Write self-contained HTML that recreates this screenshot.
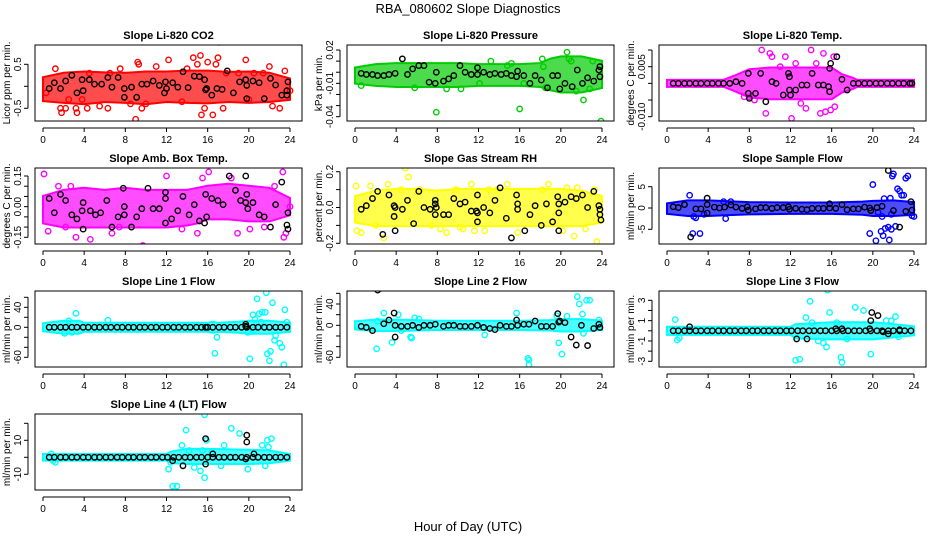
<!DOCTYPE html>
<html><head><meta charset="utf-8">
<style>
html,body{margin:0;padding:0;background:#fff;}
svg{display:block;font-family:"Liberation Sans",sans-serif;}
</style></head>
<body>
<svg id="chart" width="936" height="540" viewBox="0 0 936 540" xmlns="http://www.w3.org/2000/svg">
<rect width="936" height="540" fill="#fff"/>
<text x="468" y="13" text-anchor="middle" font-size="13">RBA_080602  Slope Diagnostics</text>
<text x="468" y="531" text-anchor="middle" font-size="13">Hour of Day (UTC)</text>
</svg>
<script>
// ---------- data ----------
const xTicks = [0,4,8,12,16,20,24];

// Panel A: CO2
const coBandHours = [0,2,4,6,8,10,12,14,16,18,20,22,24];
const coBandLo = [-0.28,-0.32,-0.35,-0.3,-0.32,-0.35,-0.3,-0.32,-0.33,-0.3,-0.32,-0.3,-0.25];
const coBandHi = [0.15,0.25,0.28,0.26,0.25,0.28,0.28,0.3,0.3,0.27,0.28,0.25,0.12];
const coHours = [0.3,1.2,1.7,1.8,2.2,2.5,3.3,3.2,3.8,4.3,4.5,5.5,6.3,6.5,7.5,8.5,9.0,9.2,9.3,9.6,10,11,12.2,13.5,14,14.6,15,15.3,15.4,15.7,16,16.5,16.8,17.1,17.0,17.5,17.8,19,19.7,20,20.5,21.4,22,22.3,23,23.5,24];
const coVals = [-0.15,0.4,-0.5,-0.6,-0.5,-0.3,-0.6,-0.5,-0.3,-0.5,0.3,-0.45,-0.5,0.3,0.4,-0.4,-0.75,0.55,0.5,-0.5,-0.4,0.45,0.6,-0.35,0.4,0.65,0.5,0.7,-0.65,-0.5,0.55,-0.65,0.5,1.0,0.65,-0.5,0.3,0.3,0.6,-0.3,0.3,0.3,0.45,-0.45,-0.5,0.35,-0.1];
const coBlackHours = [0.6,1.1,1.7,2.2,2.8,3.3,3.9,3.8,4.5,5.0,5.7,6.3,6.7,7.3,7.9,7.9,8.6,9.1,9.6,10.1,10.7,11.3,11.8,11.9,12.0,12.6,13.1,13.6,14.1,14.7,15.2,15.7,15.8,15.9,16.4,16.9,17.4,17.9,18.5,19.1,19.7,19.8,19.8,20.4,21.0,21.5,22.1,22.6,23.2,23.7,23.8,23.7];
const coBlackVals = [-0.05,0.08,-0.05,0.12,0.25,-0.15,-0.1,0.15,0.15,0.05,0.05,0.2,-0.02,0.2,-0.25,-0.05,-0.02,-0.25,0.05,0.05,0.12,0.02,-0.15,0.1,-0.05,0.08,-0.02,0.33,-0.03,0.23,0.22,0.15,-0.08,-0.05,-0.2,-0.05,-0.07,0.35,-0.15,0.1,0.15,-0.28,0.02,0.12,0.08,-0.28,0.18,0.03,-0.2,-0.2,0.1,-0.1];

// Panel B: Pressure
const prBandHours = [0,2,4,6,8,10,12,14,16,18,19,20,22,24];
const prBandLo = [-0.008,-0.01,-0.011,-0.011,-0.011,-0.011,-0.01,-0.01,-0.01,-0.011,-0.014,-0.016,-0.016,-0.012];
const prBandHi = [0.002,0.005,0.006,0.006,0.006,0.006,0.005,0.005,0.005,0.006,0.01,0.012,0.012,0.008];
const prHours = [0.6,4.6,5.8,7.9,8.9,10.3,12.1,13.2,14.8,15.2,16.0,16.4,18.2,18.3,18.5,20.6,20.8,21.5,22.2,22.8,23.1,23.9,21.0];
const prVals = [-0.012,0.012,-0.014,-0.036,-0.015,-0.015,-0.010,0.010,0.006,0.008,-0.033,-0.010,0.012,0.005,-0.014,0.018,0.012,-0.017,-0.025,-0.015,0.010,-0.044,0.010];
const prBlackHours = [0.6,1.1,1.7,2.2,2.8,3.3,3.9,4.6,5.1,5.6,6.2,6.7,7.2,7.8,7.9,8.6,9.1,9.6,10.2,10.7,11.3,11.9,11.9,12.5,13.1,13.6,14.2,14.7,15.2,15.7,15.8,16.4,17.0,17.5,18.1,18.7,19.2,19.7,19.9,20.4,21.1,21.6,22.1,22.6,23.2,23.7,23.8,23.8];
const prBlackVals = [-0.001,-0.002,-0.002,-0.003,-0.003,-0.002,-0.001,0.012,-0.002,0.003,0.006,0.006,-0.009,-0.010,0.000,-0.008,-0.006,-0.003,0.006,0.000,-0.002,0.004,-0.002,0.000,-0.002,-0.001,-0.002,-0.001,-0.003,-0.004,0.001,-0.003,-0.010,-0.003,-0.007,-0.014,-0.003,-0.003,-0.015,-0.010,-0.013,0.002,-0.010,-0.005,-0.008,0.002,0.005,-0.004];

// Panel C: Li-820 Temp
const ltBandHours = [0,5.5,6.5,8,10,12,14,16,17,18,18.5,24];
const ltBandLo = [-0.0003,-0.0003,-0.0015,-0.0035,-0.004,-0.004,-0.004,-0.004,-0.002,-0.001,-0.0003,-0.0003];
const ltBandHi = [0.0003,0.0003,0.0015,0.0035,0.004,0.004,0.004,0.004,0.002,0.001,0.0003,0.0003];
const ltHours = [8.5,9.2,9.6,10.0,10.2,11.5,12.1,12.5,13.5,14.0,14.5,14.9,15.4,15.2,15.9,16.2,16.3,8.0,7.5,11.0,13.0];
const ltVals = [-0.005,0.010,-0.009,0.009,0.008,0.008,-0.0105,0.006,-0.0075,0.010,0.006,-0.009,-0.0085,0.009,-0.008,0.008,-0.007,-0.004,-0.004,0.005,-0.006];
const ltBlackHours = [0.6,1.1,1.7,2.2,2.8,3.3,3.9,4.4,5.0,5.5,6.1,6.7,7.3,7.9,7.9,8.0,8.6,9.1,9.6,10.2,10.6,11.3,11.8,11.9,11.9,12.0,12.5,13.1,13.6,14.1,14.7,15.2,15.7,15.8,15.8,15.9,16.5,17.0,17.5,18.1,18.6,19.2,19.7,20.3,20.8,21.4,21.9,22.5,23.0,23.6,23.8];
const ltBlackVals = [0,0,0,0,0,0,0,0,0,0,0,0.0005,0,0.003,-0.003,-0.0045,-0.003,0.003,-0.0055,0.0005,0,-0.0035,0.003,0.002,-0.002,-0.0035,-0.002,-0.0005,-0.0005,0.003,-0.0005,-0.0005,-0.001,-0.0025,0.0045,0.006,0.008,0.0012,-0.002,0,0,0,0,0,0,0,0,0,0,0,0];

// Panel D: Amb. Box Temp
const abBandHours = [0,2,4,6,8,10,12,14,15,16,18,20,22,24];
const abBandLo = [-0.07,-0.09,-0.09,-0.09,-0.09,-0.09,-0.09,-0.08,-0.07,-0.05,-0.05,-0.06,-0.06,-0.03];
const abBandHi = [0.04,0.07,0.08,0.07,0.08,0.07,0.07,0.07,0.08,0.09,0.1,0.09,0.08,0.03];
const abHours = [0.1,0.5,1.5,2.2,2.7,3.2,4.6,6.7,7.4,9.7,12,13.5,15.0,16.1,15.5,18.3,18.9,20.1,21.5,22.5,23.3,23.4,23.6,24];
const abVals = [0.16,-0.12,0.10,-0.1,0.10,-0.15,-0.16,-0.13,-0.1,-0.19,0.15,-0.11,-0.13,0.17,0.14,0.14,-0.13,-0.11,-0.1,0.10,0.17,-0.15,-0.13,0.0];
const abBlackHours = [0.6,1.1,1.7,2.2,2.8,3.3,3.9,3.9,3.8,4.6,5.1,5.6,6.2,6.7,7.3,7.8,7.9,7.9,8.6,9.1,9.6,10.2,10.7,11.3,11.9,11.9,11.9,12.5,13.1,13.6,14.2,14.7,15.2,15.7,15.8,15.9,16.4,17.0,17.5,18.1,18.7,19.2,19.7,19.7,19.8,19.9,20.4,21.0,21.5,22.1,22.6,23.2,23.7,23.8,23.8];
const abBlackVals = [0.04,-0.03,0.06,0.03,-0.04,-0.06,0.02,-0.11,-0.02,-0.02,-0.04,-0.03,0.03,-0.10,-0.05,0.09,0.00,-0.04,-0.10,-0.05,-0.01,0.09,-0.01,-0.01,0.04,0.07,-0.08,-0.06,-0.02,0.05,-0.04,0.01,-0.07,-0.08,0.06,-0.05,0.04,0.03,0.01,0.15,0.08,0.03,0.02,0.15,0.06,-0.01,0.02,-0.04,-0.05,-0.10,0.01,0.12,-0.09,-0.03,-0.11];

// Panel E: Gas Stream RH
const rhBandHours = [0,2,4,6,8,10,12,14,16,18,20,22,24];
const rhBandLo = [-0.07,-0.09,-0.09,-0.09,-0.09,-0.09,-0.09,-0.09,-0.09,-0.09,-0.09,-0.09,-0.07];
const rhBandHi = [0.05,0.08,0.09,0.09,0.08,0.09,0.09,0.09,0.09,0.09,0.09,0.08,0.05];
const rhHours = [0.1,0.2,0.6,1.5,2.0,2.8,3.2,4.5,4.9,5.2,6.3,7.4,8.3,8.9,9.8,10.2,10.5,11.3,11.6,12.6,13.0,13.8,14.8,15.8,18.2,18.8,20.2,20.6,21.3,21.6,22.4,23.3,23.5];
const rhVals = [0.12,-0.13,-0.14,0.12,-0.10,-0.17,0.13,0.10,0.22,0.17,0.10,-0.10,-0.12,-0.14,0.10,-0.11,-0.12,0.13,-0.13,-0.13,0.10,0.10,0.13,-0.14,0.10,0.13,-0.13,0.11,-0.16,0.11,-0.12,0.10,-0.19];
const rhBlackHours = [0.6,1.1,1.7,2.2,2.7,3.3,3.8,3.9,3.8,3.9,4.6,5.1,5.7,6.2,6.7,7.3,7.8,7.8,7.9,7.8,8.6,9.1,9.6,10.2,10.7,11.3,11.8,11.9,11.9,11.9,12.5,13.1,13.6,14.1,14.7,15.2,15.7,15.8,15.8,16.5,17.0,17.5,18.1,18.6,19.2,19.7,19.8,19.8,19.8,20.4,21.0,21.5,22.1,22.6,23.2,23.7,23.8,23.8,23.9];
const rhBlackVals = [-0.01,0.01,0.05,0.09,-0.15,0.07,0.01,0.0,-0.05,-0.13,-0.01,0.04,-0.09,0.09,0.0,-0.01,0.04,0.02,0.0,-0.04,-0.04,-0.04,0.05,0.02,0.03,-0.02,-0.02,-0.03,0.07,-0.08,0.0,-0.03,0.04,0.11,-0.06,-0.17,0.07,-0.01,0.02,-0.13,-0.04,0.01,-0.10,0.02,-0.08,0.06,0.02,-0.13,-0.03,0.03,0.06,0.05,0.07,0.0,0.09,0.01,-0.01,-0.04,-0.07];

// Panel F: Sample Flow
const sfBandHours = [0,2,4,6,8,12,16,19,20,22,24];
const sfBandLo = [-0.8,-1.3,-1.3,-1.1,-0.9,-0.8,-0.8,-1.0,-1.3,-1.3,-1.0];
const sfBandHi = [0.5,1.2,1.2,1.0,0.8,0.7,0.7,0.9,1.1,1.2,0.8];
const sfHours = [2.2,2.5,2.6,2.8,3.2,3.6,5.5,5.7,6.2,19.7,20,20.3,20.8,21.0,20.9,21.1,21.2,21.5,21.6,21.7,21.8,21.9,22.0,22.2,22.4,22.6,22.8,23.0,23.2,23.4,23.8,24,20.5,21.8];
const sfVals = [3,-6,-2,-2.3,-6,-1.5,1.5,-2.5,1.5,-6,5.5,-7.7,-5.5,-6.5,-2,2.2,-4.8,-4.5,-7.5,2.3,-5,7.5,8,-4.3,4.5,4,3,3,7,7.5,-1.8,-2,-1,-1.5];
const sfBlackHours = [0.6,1.1,1.7,2.3,2.8,3.3,3.9,3.9,3.9,4.6,5.1,5.6,6.2,6.7,7.3,7.8,7.9,8.6,9.1,9.6,10.2,10.7,11.3,11.8,11.9,12.5,13.1,13.6,14.1,14.7,15.2,15.8,15.8,16.4,17.0,17.5,18.1,18.6,19.2,19.7,19.8,20.4,20.9,21.5,22.0,22.6,23.2,23.7,23.8];
const sfBlackVals = [0.3,0.1,0.8,-6.8,-0.2,-0.2,2.3,0.8,-1.2,0.2,0,0.2,0.7,0.2,-0.1,0.3,-0.5,-0.2,0.1,0.1,-0.1,0.1,0.1,0.3,-0.3,-0.1,-0.3,-0.4,-0.1,-0.1,-0.1,1.0,0.0,-0.1,0.8,-0.4,-0.2,-0.2,0.2,0.0,-0.6,0.1,0.4,8.8,-0.6,-4.5,-0.8,1.5,-0.5];

// Shared zero-line black hours for flow panels
const flatHours = [0.6,1.1,1.7,2.2,2.8,3.3,3.9,4.4,5.0,5.5,6.1,6.6,7.2,7.7,8.3,8.8,9.4,9.9,10.5,11.0,11.6,12.1,12.7,13.2,13.8,14.3,14.9,15.4,16.0,16.5,17.1,17.6,18.2,18.7,19.3,19.8,20.4,20.9,21.5,22.0,22.6,23.1,23.7];

// Panel G: Line 1 Flow
const l1BandHours = [0,2,3.5,4,16,16.5,17,19,20,22,24];
const l1BandLo = [-3,-8,-8,-4,-4,-6,-4,-6,-8,-8,-4];
const l1BandHi = [3,8,8,4,4,6,4,6,8,8,4];
const l1Hours = [2.1,2.8,2.5,3.2,6.3,16.7,16.9,19.9,20.1,20.4,20.6,20.8,21.0,21.3,21.6,21.7,21.8,22.0,22.1,22.3,22.5,22.6,23.0,23.2,23.4,23.5,23.7,21.2,20.5];
const l1Vals = [-12,-10,13,28,14,-52,-20,-10,-63,25,16,57,27,30,30,69,-53,-67,-48,49,-26,-17,-32,-40,-75,35,10,10,-5];
const l1BlackHours = [15.8,19.7,19.7];
const l1BlackVals = [0,6,2];

// Panel H: Line 2 Flow
const l2BandHours = [0,2,4,6,8,12,16,19,20,22,24];
const l2BandLo = [-3,-6,-6,-5,-4,-4,-4,-5,-7,-7,-4];
const l2BandHi = [3,6,6,5,4,4,4,5,7,7,4];
const l2Hours = [2.1,2.2,2.8,3.6,4.2,4.5,5.4,5.5,5.8,6.2,12.6,15.7,16.9,16.9,16.8,19.6,19.8,20.1,20.6,21.6,21.8,22.1,22.2,22.5,22.8,23.7];
const l2Vals = [-44,8,23,-32,20,-10,-22,-24,14,12,-18,23,-65,-74,-62,18,-33,-54,17,54,40,21,-15,47,47,10];
const l2BlackHours = [0.6,1.1,1.7,2.2,2.8,3.3,3.8,3.9,3.9,4.5,5.1,5.6,6.2,6.7,7.3,7.8,8.6,9.1,9.6,10.2,10.7,11.3,11.9,12.5,13.1,13.6,14.1,14.7,15.2,15.7,15.8,16.4,16.9,17.5,18.1,18.6,19.2,19.7,19.8,19.9,20.4,21.0,21.5,22.0,22.6,23.2,23.7,23.8];
const l2BlackVals = [-2,-4,-10,66,3,10,23,0,-22,-2,-2,0,-4,0,0,2,-2,0,0,-2,-2,-2,0,-4,-6,-8,0,-2,-2,10,0,2,2,8,-2,-2,-2,22,6,8,5,-22,-37,0,-38,-6,2,-4];

// Panel I: Line 3 Flow
const l3BandHours = [0,12,12.5,16,20,24];
const l3BandLo = [-0.15,-0.15,-0.5,-0.6,-0.6,-0.2];
const l3BandHi = [0.15,0.15,0.4,0.6,0.6,0.2];
const l3Hours = [0.8,1.0,1.2,12.5,12.9,13.5,13.9,14.1,14.7,15.2,15.5,15.6,15.8,16.5,16.9,17.0,17.5,18.3,19.1,19.8,21.3,21.8,22.2,22.5];
const l3Vals = [1.1,-0.9,-0.7,-2.9,-2.8,1.3,2.9,0.8,-1.0,-1.2,-1.6,4.0,1.8,0.8,-2.6,-3.1,-0.8,2.3,2.0,-2.3,1.0,1.0,1.4,-0.6];
const l3BlackHours = [2.2,12.6,13.6,16.4,17.0,19.7,19.8,19.9,20.5,21.0,21.5,22.6];
const l3BlackVals = [0.4,-0.8,-0.8,0.2,0.2,0.2,1.0,1.8,1.5,-0.1,-0.3,0.1];

// Panel J: Line 4 (LT) Flow
const l4BandHours = [0,12,12.5,14,16,20,22,24];
const l4BandLo = [-0.5,-0.5,-2,-2.5,-2.5,-2.5,-2,-0.5];
const l4BandHi = [0.5,0.5,2,3.5,3.5,3,2.5,0.5];
const l4Hours = [0.8,1.2,1.0,12.2,12.4,12.6,13.0,13.5,13.9,14.2,14.7,15.3,15.5,15.7,15.7,15.9,16.4,17.3,17.6,18.3,19.1,19.9,21.3,21.6,21.8,22.2,21.9];
const l4Vals = [2,-3,-2,-7,-3,-17,-17,7,16,4,-6,-8,4,-12,25,10,3,-5,7,17,14,-7,7,-5,10,11,6];
const l4BlackHours = [12.6,13.6,15.8,15.8,16.5,19.8,19.8,20.5,19.7];
const l4BlackVals = [-2,-5,11,-4,2,9,13,2,-1];

// y-axis definitions (ticks and labels)
const coTicks=[-0.5,0,0.5], coLabels=["-0.5","","0.5"];
const prTicks=[-0.04,-0.03,-0.02,-0.01,0,0.01,0.02], prLabels=["-0.04","","","-0.01","","","0.02"];
const ltTicks=[-0.010,-0.005,0,0.005,0.010], ltLabels=["-0.010","","","0.005",""];
const abTicks=[-0.15,-0.10,-0.05,0,0.05,0.10,0.15], abLabels=["-0.15","","","0.00","","","0.15"];
const rhTicks=[-0.2,-0.1,0,0.1,0.2], rhLabels=["-0.2","","0.0","","0.2"];
const sfTicks=[-5,0,5], sfLabels=["-5","0","5"];
const l1Ticks=[-60,-40,-20,0,20,40,60], l1Labels=["-60","","","0","","40",""];
const l3Ticks=[-3,-2,-1,0,1,2,3], l3Labels=["-3","","-1","","1","","3"];
const l4Ticks=[-10,0,10,20], l4Labels=["-10","","10",""];

// ---------- drawing ----------
const NS="http://www.w3.org/2000/svg";
const svg=document.getElementById('chart');
function mk(tag,attrs,parent){const e=document.createElementNS(NS,tag);for(const k in attrs)e.setAttribute(k,attrs[k]);(parent||svg).appendChild(e);return e;}

const panels=[
 {key:'co2',title:'Slope Li-820 CO2',ylab:'Licor ppm per min.',col:0,row:0,color:'#ff0000',v1:0.5,p1:64.3,v2:-0.5,p2:108.3,ticks:coTicks,labels:coLabels,bh:coBandHours,bl:coBandLo,bu:coBandHi,h:coHours,v:coVals,kh:coBlackHours,kv:coBlackVals},
 {key:'pressure',title:'Slope Li-820 Pressure',ylab:'kPa per min.',col:1,row:0,color:'#00cc00',v1:0.02,p1:50,v2:-0.04,p2:116.7,ticks:prTicks,labels:prLabels,bh:prBandHours,bl:prBandLo,bu:prBandHi,h:prHours,v:prVals,kh:prBlackHours,kv:prBlackVals},
 {key:'li-temp',title:'Slope Li-820 Temp.',ylab:'degrees C per min.',col:2,row:0,color:'#ff00ff',v1:0.005,p1:66.7,v2:-0.010,p2:116.7,ticks:ltTicks,labels:ltLabels,bh:ltBandHours,bl:ltBandLo,bu:ltBandHi,h:ltHours,v:ltVals,kh:ltBlackHours,kv:ltBlackVals},
 {key:'amb-temp',title:'Slope Amb. Box Temp.',ylab:'degrees C per min.',col:0,row:1,color:'#ff00ff',v1:0.15,p1:176,v2:-0.15,p2:237.3,ticks:abTicks,labels:abLabels,bh:abBandHours,bl:abBandLo,bu:abBandHi,h:abHours,v:abVals,kh:abBlackHours,kv:abBlackVals},
 {key:'rh',title:'Slope Gas Stream RH',ylab:'percent per min.',col:1,row:1,color:'#ffff00',v1:0.2,p1:171.7,v2:-0.2,p2:243.3,ticks:rhTicks,labels:rhLabels,bh:rhBandHours,bl:rhBandLo,bu:rhBandHi,h:rhHours,v:rhVals,kh:rhBlackHours,kv:rhBlackVals},
 {key:'sample-flow',title:'Slope Sample Flow',ylab:'ml/min per min.',col:2,row:1,color:'#0000ff',v1:5,p1:186.7,v2:-5,p2:229.3,ticks:sfTicks,labels:sfLabels,bh:sfBandHours,bl:sfBandLo,bu:sfBandHi,h:sfHours,v:sfVals,kh:sfBlackHours,kv:sfBlackVals},
 {key:'line1',title:'Slope Line 1 Flow',ylab:'ml/min per min.',col:0,row:2,color:'#00ffff',v1:40,p1:307.3,v2:-60,p2:357.3,ticks:l1Ticks,labels:l1Labels,bh:l1BandHours,bl:l1BandLo,bu:l1BandHi,h:l1Hours,v:l1Vals,kh:flatHours.concat(l1BlackHours),kv:flatHours.map(()=>0).concat(l1BlackVals)},
 {key:'line2',title:'Slope Line 2 Flow',ylab:'ml/min per min.',col:1,row:2,color:'#00ffff',v1:40,p1:304,v2:-60,p2:357.3,ticks:l1Ticks,labels:l1Labels,bh:l2BandHours,bl:l2BandLo,bu:l2BandHi,h:l2Hours,v:l2Vals,kh:l2BlackHours,kv:l2BlackVals},
 {key:'line3',title:'Slope Line 3 Flow',ylab:'ml/min per min.',col:2,row:2,color:'#00ffff',v1:3,p1:300.3,v2:-3,p2:361.3,ticks:l3Ticks,labels:l3Labels,bh:l3BandHours,bl:l3BandLo,bu:l3BandHi,h:l3Hours,v:l3Vals,kh:flatHours.concat(l3BlackHours),kv:flatHours.map(()=>0).concat(l3BlackVals)},
 {key:'line4',title:'Slope Line 4 (LT) Flow',ylab:'ml/min per min.',col:0,row:3,color:'#00ffff',v1:10,p1:440.3,v2:-10,p2:474.3,ticks:l4Ticks,labels:l4Labels,bh:l4BandHours,bl:l4BandLo,bu:l4BandHi,h:l4Hours,v:l4Vals,kh:flatHours.concat(l4BlackHours),kv:flatHours.map(()=>0).concat(l4BlackVals)}
];
const rowTops=[45,168,291,414];

panels.forEach(p=>{
  const cx=p.col*312, top=rowTops[p.row], bot=top+76, left=cx+35, right=cx+302;
  const xs=h=>cx+43+h*247/24;
  const ys=v=>p.p1+(v-p.v1)*(p.p2-p.p1)/(p.v2-p.v1);
  const g=mk('g',{});
  
  
  const clipId='clip-'+p.key;
  const cp=mk('clipPath',{id:clipId},g);
  mk('rect',{x:left,y:top,width:right-left,height:bot-top},cp);
  const t=mk('text',{x:(left+right)/2,y:top-6,'text-anchor':'middle','font-size':'11','font-weight':'bold'},g);
  t.textContent=p.title;
  
  
  const data=mk('g',{'clip-path':'url(#'+clipId+')'},g);
  // dense band
  let pts=[];
  p.bh.forEach((h,i)=>pts.push(xs(h)+','+(ys(p.bu[i])-2.5)));
  for(let i=p.bh.length-1;i>=0;i--)pts.push(xs(p.bh[i])+','+(ys(p.bl[i])+2.5));
  const band=mk('polygon',{points:pts.join(' '),fill:p.color,'fill-opacity':'0.7',stroke:p.color,'stroke-width':'2'},data);
  
  
  p.h.forEach((h,i)=>{
    const c=mk('circle',{cx:xs(h),cy:ys(p.v[i]),r:2.7,fill:'none',stroke:p.color,'stroke-width':'1.4'},data);
    
    
  });
  p.kh.forEach((h,i)=>{
    const c=mk('circle',{cx:xs(h),cy:ys(p.kv[i]),r:2.7,fill:'none',stroke:'#000','stroke-width':'1.4'},data);
    
    
  });
  // box
  const box=mk('rect',{x:left,y:top,width:right-left,height:bot-top,fill:'none',stroke:'#000','stroke-width':'1'},g);
  
  
  // x axis
  const xa=mk('g',{},g);
  
  
  mk('line',{x1:xs(xTicks[0]),x2:xs(xTicks[xTicks.length-1]),y1:bot+7,y2:bot+7,stroke:'#000'},xa);
  xTicks.forEach(v=>{
    mk('line',{x1:xs(v),x2:xs(v),y1:bot+7,y2:bot+11,stroke:'#000'},xa);
    const tl=mk('text',{x:xs(v),y:bot+22,'text-anchor':'middle','font-size':'10'},xa);
    tl.textContent=v;
  });
  // y axis
  const ya=mk('g',{},g);
  
  
  const ax=left-7;
  mk('line',{x1:ax,x2:ax,y1:ys(p.ticks[0]),y2:ys(p.ticks[p.ticks.length-1]),stroke:'#000'},ya);
  p.ticks.forEach((v,i)=>{
    mk('line',{x1:ax-4,x2:ax,y1:ys(v),y2:ys(v),stroke:'#000'},ya);
    if(p.labels[i]){
      const yl=mk('text',{x:0,y:0,'text-anchor':'middle','font-size':'10',transform:'translate('+(ax-7)+','+ys(v)+') rotate(-90)'},ya);
      yl.textContent=p.labels[i];
    }
  });
  const yt=mk('text',{x:0,y:0,'text-anchor':'middle','font-size':'10',transform:'translate('+(cx+10)+','+((top+bot)/2)+') rotate(-90)'},g);
  yt.textContent=p.ylab;
  
  
});
</script>
</body></html>
